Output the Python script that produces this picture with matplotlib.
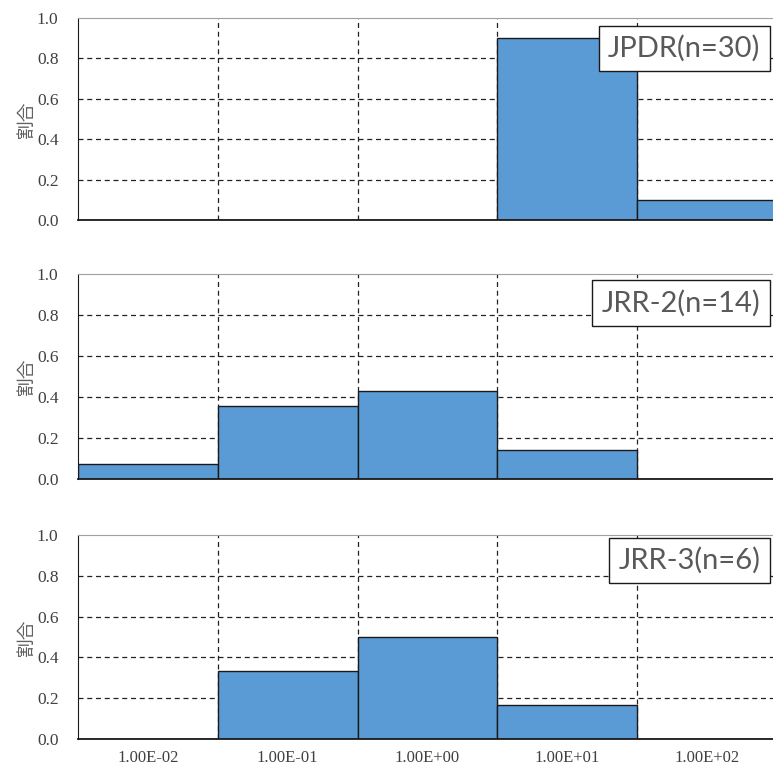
import matplotlib
matplotlib.use("Agg")
import matplotlib.pyplot as plt
import numpy as np

# ---------------------------------------------------------
# data
# ---------------------------------------------------------
bins = ["1.00E-02", "1.00E-01", "1.00E+00", "1.00E+01", "1.00E+02"]
jpdr = [0.0, 0.0, 0.0, 0.9, 0.1]
jrr2 = [0.071, 0.357, 0.429, 0.143, 0.0]
jrr3 = [0.0, 0.333, 0.5, 0.167, 0.0]
titles = ["JPDR(n=30)", "JRR-2(n=14)", "JRR-3(n=6)"]
yticks = [0.0, 0.2, 0.4, 0.6, 0.8, 1.0]

series = [jpdr, jrr2, jrr3]

# ---------------------------------------------------------
# layout (axes boxes in figure fraction)
# ---------------------------------------------------------
W, H = 773, 768
fig = plt.figure(figsize=(W / 100, H / 100), dpi=100)

boxes = [(18, 220), (274, 479), (535, 739)]
left_px, right_px = 78, 777
label_pos = [(0.976, 0.915), (0.976, 0.925), (0.976, 0.94)]

x = np.arange(len(bins))

for i, (vals, ttl) in enumerate(zip(series, titles)):
    top, bot = boxes[i]
    ax = fig.add_axes([left_px / W, 1 - bot / H,
                       (right_px - left_px) / W, (bot - top) / H])

    ax.bar(x, vals, width=1.0, color="#5B9BD5", edgecolor="#1a1a1a",
           linewidth=1.0, zorder=2)

    ax.set_xlim(-0.5, len(bins) - 0.5)
    ax.set_ylim(0, 1.0)

    # grid: horizontal at y ticks, vertical at bin borders
    for yv in yticks[1:-1]:
        ax.axhline(yv, color="#222222", linestyle=(0, (4, 3)),
                   linewidth=0.9, zorder=1)
    for xv in np.arange(0.5, len(bins) - 0.5, 1.0):
        ax.axvline(xv, color="#222222", linestyle=(0, (4, 3)),
                   linewidth=0.9, zorder=1)

    ax.set_yticks(yticks)
    ax.set_yticklabels([f"{v:.1f}" for v in yticks],
                       family="Liberation Serif", fontsize=12.5,
                       color="#404040")
    ax.tick_params(length=0, pad=14)

    if i == 2:
        ax.set_xticks(x)
        ax.set_xticklabels(bins, family="Liberation Serif", fontsize=12,
                           color="#404040")
        ax.tick_params(axis="x", pad=8)
    else:
        ax.set_xticks([])

    ax.spines["left"].set_color("#1a1a1a")
    ax.spines["bottom"].set_color("#1a1a1a")
    ax.spines["bottom"].set_linewidth(1.3)
    ax.spines["top"].set_color("#a0a0a0")
    ax.spines["right"].set_color("#a0a0a0")

    ax.set_ylabel("割合", family=["Noto Sans CJK JP", "DejaVu Sans"],
                  fontsize=13.5, color="#606060", labelpad=0)

    lx, ly = label_pos[i]
    ax.text(lx, ly, ttl, transform=ax.transAxes, ha="right", va="top",
            family="Lato", fontsize=21, color="#595959", zorder=5,
            bbox=dict(boxstyle="square,pad=0.32", facecolor="white",
                      edgecolor="#1a1a1a", linewidth=1.0))

fig.savefig("out.png", dpi=100)
